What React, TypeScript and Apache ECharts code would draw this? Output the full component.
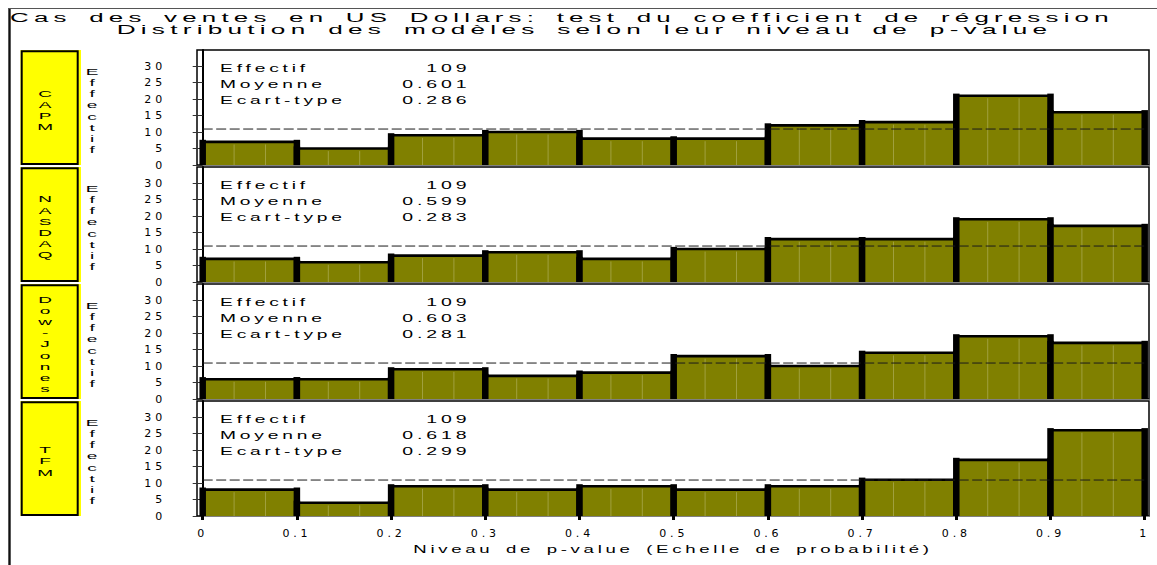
import React, { useEffect, useRef } from 'react';
import * as echarts from 'echarts';

// ---------- data ----------
const titleLine1 = 'Cas des ventes en US Dollars: test du coefficient de régression';
const titleLine2 = 'Distribution des modèles selon leur niveau de p-value';
const xAxisTitle = 'Niveau de p-value (Echelle de probabilité)';
const yAxisTitle = 'Effectif';
const panelNames = ['CAPM', 'NASDAQ', 'Dow-Jones', 'TFM'];
const binEdges = [0, 0.1, 0.2, 0.3, 0.4, 0.5, 0.6, 0.7, 0.8, 0.9, 1];
const countsCAPM = [7, 5, 9, 10, 8, 8, 12, 13, 21, 16];
const countsNASDAQ = [7, 6, 8, 9, 7, 10, 13, 13, 19, 17];
const countsDowJones = [6, 6, 9, 7, 8, 13, 10, 14, 19, 17];
const countsTFM = [8, 4, 9, 8, 9, 8, 9, 11, 17, 26];
const expectedCounts = [10.9, 10.9, 10.9, 10.9];
const statLabels = ['Effectif', 'Moyenne', 'Ecart-type'];
const effectifs = ['109', '109', '109', '109'];
const moyennes = ['0.601', '0.599', '0.603', '0.618'];
const ecartTypes = ['0.286', '0.283', '0.281', '0.299'];
const yTicks = [0, 5, 10, 15, 20, 25, 30];

const allCounts = [countsCAPM, countsNASDAQ, countsDowJones, countsTFM];

// ---------- layout ----------
const W = 1157;
const H = 565;
const PANEL_TOPS = [50, 167, 284, 401];
const PANEL_H = 115;
const GRID_LEFT = 197;
const GRID_W = 952;
const X_MIN = -0.00605;
const X_MAX = 1.00456;
const Y_MAX = 34.85;
const FONT = 'Liberation Sans';
const OLIVE = '#808000';

const renderBar = (params: any, api: any) => {
  const lo = api.value(0);
  const hi = api.value(1);
  const v = api.value(2);
  const pb = api.coord([lo, 0]);
  const pt = api.coord([hi, v]);
  const x0 = pb[0];
  const x1 = pt[0];
  const yb = pb[1];
  const yt = pt[1];
  const w = x1 - x0;
  const h = yb - yt;
  const side = 6.5;
  const topT = 2.6;
  const sideTop = yt - topT / 2 - 0.8;
  return {
    type: 'group',
    children: [
      { type: 'rect', shape: { x: x0, y: yt, width: w, height: h }, style: { fill: OLIVE } },
      { type: 'line', shape: { x1: x0 + w / 3, y1: yt + topT, x2: x0 + w / 3, y2: yb }, style: { stroke: '#a0a03e', lineWidth: 1 } },
      { type: 'line', shape: { x1: x0 + (2 * w) / 3, y1: yt + topT, x2: x0 + (2 * w) / 3, y2: yb }, style: { stroke: '#a0a03e', lineWidth: 1 } },
      { type: 'rect', shape: { x: x0, y: yt - topT / 2, width: w, height: topT }, style: { fill: '#000' } },
      { type: 'rect', shape: { x: x0 - side / 2, y: sideTop, width: side, height: yb - sideTop }, style: { fill: '#000' } },
      { type: 'rect', shape: { x: x1 - side / 2, y: sideTop, width: side, height: yb - sideTop }, style: { fill: '#000' } },
    ],
  };
};

function buildOption() {
  const grid: any[] = [];
  const xAxis: any[] = [];
  const yAxis: any[] = [];
  const series: any[] = [];
  const graphic: any[] = [];

  // outer frame
  graphic.push({ type: 'line', shape: { x1: 9.5, y1: 8, x2: 9.5, y2: H }, style: { stroke: '#111', lineWidth: 2.4 }, silent: true });
  graphic.push({ type: 'line', shape: { x1: 9, y1: 8.5, x2: W, y2: 8.5 }, style: { stroke: '#555', lineWidth: 1 }, silent: true });

  // titles
  graphic.push({
    type: 'text', x: 10, y: 17.2, scaleX: 1.92, silent: true,
    style: { text: titleLine1, fontSize: 13.5, fontFamily: FONT, fill: '#000', textAlign: 'left', textVerticalAlign: 'middle', verticalAlign: 'middle' },
  });
  graphic.push({
    type: 'text', x: 584.5, y: 29, scaleX: 1.94, silent: true,
    style: { text: titleLine2, fontSize: 13.5, fontFamily: FONT, fill: '#000', textAlign: 'center', textVerticalAlign: 'middle', verticalAlign: 'middle' },
  });

  PANEL_TOPS.forEach((top, i) => {
    const last = i === PANEL_TOPS.length - 1;
    grid.push({ left: GRID_LEFT, top, width: GRID_W, height: PANEL_H, show: true, borderColor: '#000', borderWidth: 1.5, backgroundColor: 'transparent' });
    xAxis.push({
      type: 'value', gridIndex: i, min: X_MIN, max: X_MAX,
      axisLine: { show: true, lineStyle: { color: '#808080', width: 1 } },
      axisTick: { show: last, length: 4, lineStyle: { color: '#000', width: 3 }, customValues: binEdges },
      axisLabel: {
        show: last, customValues: binEdges, margin: 12, color: '#000', fontSize: 11, fontFamily: 'DejaVu Sans',
        formatter: (v: number) => String(Math.round(v * 10) / 10),
      },
      splitLine: { show: false },
    });
    yAxis.push({
      type: 'value', gridIndex: i, min: 0, max: Y_MAX,
      axisLine: { show: true, lineStyle: { color: '#000', width: 2 } },
      axisTick: { show: true, length: 10, lineStyle: { color: '#333', width: 1 }, customValues: yTicks },
      axisLabel: { show: true, customValues: yTicks, margin: 31, color: '#000', fontSize: 11, fontFamily: 'DejaVu Sans' },
      splitLine: { show: false },
    });
    const counts = allCounts[i];
    series.push({
      type: 'custom', name: panelNames[i], xAxisIndex: i, yAxisIndex: i,
      renderItem: renderBar,
      encode: { x: [0, 1], y: 2 },
      data: counts.map((c, k) => [binEdges[k], binEdges[k + 1], c]),
      silent: true, z: 2,
    });
    series.push({
      type: 'line', xAxisIndex: i, yAxisIndex: i, symbol: 'none', silent: true, z: 5,
      data: [[binEdges[0], expectedCounts[i]], [binEdges[binEdges.length - 1], expectedCounts[i]]],
      lineStyle: { color: '#1a1a1a', width: 1, type: [10, 3.5] },
    });

    // yellow label box
    graphic.push({ type: 'rect', shape: { x: 20.5, y: top, width: 60.5, height: PANEL_H }, style: { fill: '#ffff00' }, silent: true });
    graphic.push({ type: 'rect', shape: { x: 21.7, y: top + 1.2, width: 56, height: PANEL_H - 2.2 }, style: { fill: '#ffff00', stroke: '#000', lineWidth: 2 }, silent: true });
    graphic.push({
      type: 'text', x: 47, y: top + PANEL_H / 2 + 2.5, scaleX: 2.0, silent: true,
      style: { text: panelNames[i].split('').join('\n'), fontSize: 9.5, lineHeight: 11.2, fontFamily: FONT, fill: '#000', textAlign: 'center', textVerticalAlign: 'middle', verticalAlign: 'middle' },
    });
    // vertical y-axis title
    graphic.push({
      type: 'text', x: 94, y: top + 60.5, scaleX: 2.0, silent: true,
      style: { text: yAxisTitle.split('').join('\n'), fontSize: 9.5, lineHeight: 11.2, fontFamily: FONT, fill: '#000', textAlign: 'center', textVerticalAlign: 'middle', verticalAlign: 'middle' },
    });
    // stats
    const vals = [effectifs[i], moyennes[i], ecartTypes[i]];
    const offs = [18, 34, 50];
    statLabels.forEach((lab, r) => {
      graphic.push({
        type: 'text', x: 220, y: top + offs[r], scaleX: 1.92, silent: true,
        style: { text: lab, fontSize: 10, fontFamily: FONT, fill: '#000', textAlign: 'left', textVerticalAlign: 'middle', verticalAlign: 'middle' },
      });
      graphic.push({
        type: 'text', x: 470.5, y: top + offs[r], scaleX: 1.95, silent: true,
        style: { text: vals[r], fontSize: 10, fontFamily: FONT, fill: '#000', textAlign: 'right', textVerticalAlign: 'middle', verticalAlign: 'middle' },
      });
    });
  });

  // x-axis title
  graphic.push({
    type: 'text', x: 673, y: 549, scaleX: 1.77, silent: true,
    style: { text: xAxisTitle, fontSize: 10.5, fontFamily: FONT, fill: '#000', textAlign: 'center', textVerticalAlign: 'middle', verticalAlign: 'middle' },
  });

  return {
    animation: false,
    backgroundColor: '#fff',
    grid, xAxis, yAxis, series, graphic,
  };
}

export default function App() {
  const ref = useRef<HTMLDivElement>(null);
  useEffect(() => {
    if (!ref.current) return;
    const chart = echarts.init(ref.current, undefined, { renderer: 'svg' });
    chart.setOption(buildOption() as any);
    return () => chart.dispose();
  }, []);
  return (
    <>
      <style>{`
        .chart-root svg text { letter-spacing: 0.2em; word-spacing: 0.2em; }
        .chart-root svg text[style*="DejaVu"] { letter-spacing: 0.35em; }
      `}</style>
      <div
        ref={ref}
        className="chart-root"
        style={{ position: 'fixed', left: 0, top: 0, width: W, height: H }}
      />
    </>
  );
}
